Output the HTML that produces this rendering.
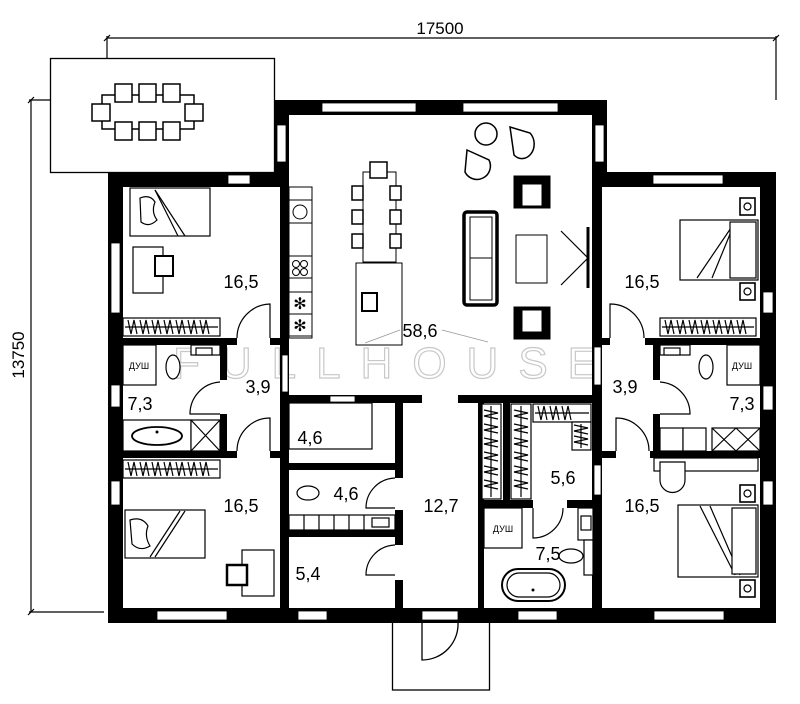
<!DOCTYPE html>
<html><head><meta charset="utf-8"><style>
html,body{margin:0;padding:0;background:#fff;}
svg{display:block;}
text{font-family:"Liberation Sans",sans-serif;}
</style></head><body>
<svg width="800" height="704" viewBox="0 0 800 704" xmlns="http://www.w3.org/2000/svg">
<g stroke="#000" stroke-width="1.2" fill="none">
<line x1="107" y1="38" x2="776" y2="38"/>
<line x1="107" y1="36" x2="107" y2="58"/>
<line x1="776" y1="36" x2="776" y2="100"/>
<line x1="104" y1="41" x2="110" y2="35"/><line x1="773" y1="41" x2="779" y2="35"/>
<line x1="31" y1="100" x2="31" y2="612"/>
<line x1="29" y1="100" x2="50" y2="100"/>
<line x1="29" y1="612" x2="104" y2="612"/>
<line x1="28" y1="103" x2="34" y2="97"/><line x1="28" y1="615" x2="34" y2="609"/>
</g>
<text x="440" y="34" font-size="17" text-anchor="middle">17500</text>
<text x="0" y="0" font-size="17" text-anchor="middle" transform="translate(24,355) rotate(-90)">13750</text>

<rect x="50.5" y="58.5" width="224" height="114" fill="#fff" stroke="#000" stroke-width="1.3"/>
<g fill="#fff" stroke="#000" stroke-width="1.5">
<rect x="102" y="95" width="92" height="34"/>
<rect x="115" y="84" width="17" height="18"/><rect x="139" y="84" width="17" height="18"/><rect x="163" y="84" width="17" height="18"/>
<rect x="115" y="122" width="17" height="18"/><rect x="139" y="122" width="17" height="18"/><rect x="163" y="122" width="17" height="18"/>
<rect x="92" y="104" width="18" height="17"/><rect x="185" y="104" width="18" height="17"/>
</g>

<rect x="392.5" y="620" width="97" height="70" fill="#fff" stroke="#000" stroke-width="1.3"/>
<path d="M422 620 L422 660 A36 36 0 0 0 458 622" fill="none" stroke="#000" stroke-width="1.3"/>

<text x="395" y="378" font-size="44" text-anchor="middle" fill="none" stroke="#c8c8c8" stroke-width="1.2" letter-spacing="20">FULLHOUSE</text>

<g fill="#000">
<rect x="274" y="100" width="333" height="15"/>
<rect x="274" y="100" width="15" height="87"/>
<rect x="592" y="100" width="15" height="87"/>
<rect x="108" y="172" width="181" height="15"/>
<rect x="592" y="172" width="184" height="15"/>
<rect x="108" y="172" width="15" height="451"/>
<rect x="760" y="172" width="16" height="451"/>
<rect x="108" y="608" width="668" height="15"/>
<rect x="280" y="187" width="9" height="421"/>
<rect x="592" y="187" width="10" height="421"/>
<rect x="108" y="338" width="129" height="7"/><rect x="270" y="338" width="19" height="7"/>
<rect x="602" y="338" width="8" height="7"/><rect x="645" y="338" width="131" height="7"/>
<rect x="220" y="345" width="7" height="35"/><rect x="220" y="414" width="7" height="40"/>
<rect x="653" y="345" width="7" height="35"/><rect x="653" y="414" width="7" height="40"/>
<rect x="108" y="451" width="129" height="7"/><rect x="270" y="451" width="19" height="7"/>
<rect x="602" y="451" width="14" height="7"/><rect x="650" y="451" width="126" height="7"/>
<rect x="289" y="395" width="133" height="8"/>
<rect x="458" y="395" width="144" height="8"/>
<rect x="395" y="403" width="8" height="75"/><rect x="395" y="510" width="8" height="35"/><rect x="395" y="580" width="8" height="28"/>
<rect x="289" y="463" width="114" height="7"/>
<rect x="289" y="530" width="114" height="7"/>
<rect x="478" y="403" width="6" height="205"/>
<rect x="503" y="403" width="7" height="97"/>
<rect x="478" y="500" width="55" height="8"/><rect x="567" y="500" width="35" height="8"/>
</g>
<g fill="#fff" stroke="#000" stroke-width="0.8">
<rect x="322" y="103" width="94" height="9"/><rect x="463" y="103" width="95" height="9"/>
<rect x="277" y="125" width="9" height="37"/><rect x="595" y="125" width="9" height="37"/>
<rect x="228" y="175" width="22" height="9"/><rect x="653" y="175" width="70" height="9"/>
<rect x="111" y="243" width="9" height="70"/><rect x="111" y="385" width="9" height="22"/><rect x="111" y="481" width="9" height="24"/>
<rect x="763" y="292" width="10" height="21"/><rect x="763" y="386" width="10" height="24"/><rect x="763" y="481" width="10" height="24"/>
<rect x="157" y="611" width="70" height="9"/><rect x="298" y="611" width="29" height="9"/><rect x="422" y="611" width="36" height="9"/>
<rect x="518" y="611" width="39" height="9"/><rect x="654" y="611" width="70" height="9"/>
<rect x="330" y="396" width="25" height="6"/>
<rect x="282" y="355" width="6" height="37"/><rect x="594" y="347" width="7" height="38"/><rect x="594" y="465" width="7" height="30"/>
</g>

<g fill="none" stroke="#000" stroke-width="1.2">
<path d="M270 338 L270 304 A34 34 0 0 0 237 338"/>
<path d="M610 338 L610 304 A34 34 0 0 1 644 338"/>
<path d="M220 382 A32 32 0 0 0 190 414 L220 414"/>
<path d="M660 382 A32 32 0 0 1 690 414 L660 414"/>
<path d="M270 451 L270 418 A33 33 0 0 0 237 451"/>
<path d="M616 451 L616 418 A33 33 0 0 1 649 451"/>
<path d="M355 403 L355 430 A27 27 0 0 1 330 403"/>
<path d="M395 478 A30 30 0 0 0 366 508 L395 508"/>
<path d="M395 545 A30 30 0 0 0 366 575 L395 575"/>
<path d="M533 508 L533 538 A30 30 0 0 0 563 508"/>
</g>

<g fill="#fff" stroke="#000" stroke-width="1">
<rect x="289" y="187" width="23" height="151"/>
<rect x="289" y="200" width="23" height="23"/><rect x="289" y="256" width="23" height="22"/>
<rect x="289" y="292" width="23" height="22"/><rect x="289" y="314" width="23" height="22"/>
<circle cx="300" cy="212" r="7"/>
<circle cx="296" cy="264" r="3.5"/><circle cx="304" cy="264" r="3.5"/><circle cx="296" cy="272" r="3.5"/><circle cx="304" cy="272" r="3.5"/>
<text x="300" y="309" font-size="16" text-anchor="middle" fill="#000" stroke="none">✻</text>
<text x="300" y="331" font-size="16" text-anchor="middle" fill="#000" stroke="none">✻</text>
<rect x="363" y="172" width="33" height="90"/>
<rect x="370" y="162" width="17" height="16" stroke-width="1.5"/>
<rect x="352" y="186" width="11" height="14" stroke-width="1.5"/><rect x="352" y="210" width="11" height="14" stroke-width="1.5"/><rect x="352" y="234" width="11" height="14" stroke-width="1.5"/>
<rect x="390" y="186" width="11" height="14" stroke-width="1.5"/><rect x="390" y="210" width="11" height="14" stroke-width="1.5"/><rect x="390" y="234" width="11" height="14" stroke-width="1.5"/>
<rect x="356" y="263" width="46" height="82"/>
<rect x="362" y="293" width="15" height="18" stroke-width="2"/>
<rect x="464" y="212" width="33" height="93" rx="3" stroke-width="3.5"/>
<rect x="470" y="217" width="22" height="83" stroke-width="1"/>
<line x1="470" y1="258" x2="492" y2="258"/>
<rect x="516" y="235" width="31" height="48"/>
<rect x="514" y="176" width="36" height="32" fill="#000"/><rect x="522" y="184" width="20" height="22" fill="#fff"/>
<rect x="514" y="307" width="36" height="32" fill="#000"/><rect x="522" y="310" width="20" height="22" fill="#fff"/>
<circle cx="486" cy="134" r="11" stroke-width="1.5"/>
<path d="M510 127 L530 133 A10 12 0 0 1 514 155 Z" stroke-width="1.5"/>
<path d="M467 150 L489 160 A12 12 0 0 1 465 172 Z" stroke-width="1.5"/>
</g>
<g stroke="#000" fill="none">
<line x1="588" y1="227" x2="588" y2="288" stroke-width="3"/>
<line x1="561" y1="231" x2="587" y2="257" stroke-width="1.2"/><line x1="561" y1="285" x2="587" y2="259" stroke-width="1.2"/>
<line x1="365" y1="343" x2="400" y2="330" stroke="#999" stroke-width="0.8"/>
<line x1="442" y1="330" x2="488" y2="342" stroke="#999" stroke-width="0.8"/>
</g>

<g fill="#fff" stroke="#000" stroke-width="1.2">
<rect x="130" y="188" width="80" height="48"/><line x1="155" y1="190" x2="185" y2="236"/><line x1="155" y1="190" x2="178" y2="236"/>
<path d="M140 198 q10 -4 15 4 q-4 10 2 18 q-8 8 -16 2 z"/>
<rect x="133" y="247" width="30" height="46"/><rect x="155" y="256" width="18" height="20" stroke-width="2"/>
<rect x="680" y="220" width="78" height="60"/><line x1="735" y1="222" x2="697" y2="278"/><line x1="735" y1="222" x2="712" y2="278"/>
<rect x="730" y="222" width="26" height="56"/>
<rect x="740" y="198" width="15" height="17" stroke-width="1.6"/><circle cx="747.5" cy="206.5" r="3.5"/>
<rect x="740" y="283" width="15" height="17" stroke-width="1.6"/><circle cx="747.5" cy="291.5" r="3.5"/>
<rect x="125" y="510" width="80" height="48"/><line x1="180" y1="511" x2="150" y2="557"/><line x1="185" y1="511" x2="155" y2="557"/>
<path d="M130 520 q12 -4 18 6 q-4 10 2 20 q-10 6 -18 -2 z"/>
<rect x="242" y="550" width="32" height="46"/><rect x="227" y="565" width="20" height="20" stroke-width="2.5"/>
<rect x="678" y="505" width="80" height="72"/><line x1="700" y1="506" x2="735" y2="575"/><line x1="710" y1="506" x2="740" y2="575"/>
<rect x="732" y="508" width="24" height="66"/>
<rect x="740" y="485" width="15" height="17" stroke-width="1.6"/><circle cx="747.5" cy="493.5" r="3.5"/>
<rect x="740" y="580" width="15" height="17" stroke-width="1.6"/><circle cx="747.5" cy="588.5" r="3.5"/>
<rect x="654" y="458" width="104" height="13"/>
<path d="M660 462 L685 462 L685 480 A12 12 0 0 1 660 480 Z"/>
</g>
<g fill="#fff" stroke="#000" stroke-width="1.2">
<rect x="123" y="318" width="97" height="18"/>
<rect x="660" y="318" width="96" height="18"/>
<rect x="123" y="460" width="97" height="18"/>
<rect x="482" y="404" width="19" height="95"/>
<rect x="511" y="404" width="20" height="95"/>
<rect x="533" y="404" width="58" height="18"/>
<rect x="572" y="422" width="19" height="28"/>
</g>
<g stroke="#000" stroke-width="1.2" fill="none">
<path d="M125 327 h93 M125 469 h93 M662 327 h92 M535 413 h54 M491 406 v91 M521 406 v91 M581 424 v24"/>
<path d="M128 320 l3 14 l3 -14 l3 14 M140 320 l3 14 l3 -14 l3 14 M152 320 l3 14 l3 -14 l3 14 M164 320 l3 14 l3 -14 l3 14 M176 320 l3 14 l3 -14 l3 14 M188 320 l3 14 l3 -14 l3 14 M200 320 l3 14 l3 -14 l3 14"/>
<path d="M665 320 l3 14 l3 -14 l3 14 M677 320 l3 14 l3 -14 l3 14 M689 320 l3 14 l3 -14 l3 14 M701 320 l3 14 l3 -14 l3 14 M713 320 l3 14 l3 -14 l3 14 M725 320 l3 14 l3 -14 l3 14 M737 320 l3 14 l3 -14 l3 14"/>
<path d="M128 462 l3 14 l3 -14 l3 14 M140 462 l3 14 l3 -14 l3 14 M152 462 l3 14 l3 -14 l3 14 M164 462 l3 14 l3 -14 l3 14 M176 462 l3 14 l3 -14 l3 14 M188 462 l3 14 l3 -14 l3 14 M200 462 l3 14 l3 -14 l3 14"/>
<path d="M484 410 l14 3 l-14 3 l14 3 M484 424 l14 3 l-14 3 l14 3 M484 438 l14 3 l-14 3 l14 3 M484 452 l14 3 l-14 3 l14 3 M484 466 l14 3 l-14 3 l14 3 M484 480 l14 3 l-14 3 l14 3"/>
<path d="M514 410 l14 3 l-14 3 l14 3 M514 424 l14 3 l-14 3 l14 3 M514 438 l14 3 l-14 3 l14 3 M514 452 l14 3 l-14 3 l14 3 M514 466 l14 3 l-14 3 l14 3 M514 480 l14 3 l-14 3 l14 3"/>
<path d="M538 406 l3 14 l3 -14 l3 14 M550 406 l3 14 l3 -14 l3 14 M562 406 l3 14 l3 -14 l3 14 M574 425 l14 3 l-14 3 l14 3 M574 436 l14 3 l-14 3 l14 3"/>
</g>

<g fill="#fff" stroke="#000" stroke-width="1.2">
<rect x="123" y="345" width="33" height="40"/>
<rect x="191" y="345" width="29" height="10"/><rect x="196" y="348" width="16" height="7"/>
<ellipse cx="173" cy="367" rx="7" ry="12"/>
<rect x="123" y="420" width="68" height="31"/><ellipse cx="157" cy="436" rx="25" ry="9" stroke-width="1.8"/>
<rect x="191" y="420" width="29" height="31"/><path d="M191 420 L220 451 M220 420 L191 451"/>
<rect x="727" y="345" width="33" height="40"/>
<rect x="660" y="345" width="30" height="10"/><rect x="664" y="348" width="16" height="7"/>
<ellipse cx="706" cy="367" rx="7" ry="12"/>
<rect x="660" y="428" width="23" height="23"/><rect x="683" y="428" width="23" height="23"/>
<rect x="712" y="428" width="48" height="23"/><path d="M712 428 L736 451 M736 428 L712 451 M736 428 L760 451 M760 428 L736 451"/>
<rect x="289" y="403" width="83" height="46"/>
<ellipse cx="308" cy="493" rx="11" ry="7"/>
<rect x="289" y="515" width="106" height="15"/>
<path d="M304 515 v15 M319 515 v15 M334 515 v15 M349 515 v15 M364 515 v15"/>
<rect x="372" y="518" width="17" height="9"/>
<rect x="484" y="508" width="38" height="40"/>
<rect x="578" y="508" width="15" height="32"/><rect x="581" y="516" width="10" height="14"/>
<rect x="584" y="540" width="9" height="35"/><ellipse cx="571" cy="556" rx="12" ry="7"/>
<rect x="502" y="569" width="63" height="32" rx="16" stroke-width="2"/><rect x="507" y="573" width="53" height="24" rx="12"/>
</g>
<g fill="#000"><circle cx="157" cy="432" r="1.5"/><circle cx="533" cy="590" r="1.5"/></g>
<g font-size="9" text-anchor="middle">
<text x="139" y="369">ДУШ</text><text x="742" y="369">ДУШ</text><text x="503" y="532">ДУШ</text>
</g>

<g font-size="18" text-anchor="middle">
<text x="241" y="288">16,5</text><text x="642" y="288">16,5</text>
<text x="420" y="337">58,6</text>
<text x="140" y="410">7,3</text><text x="258" y="393">3,9</text>
<text x="625" y="393">3,9</text><text x="742" y="410">7,3</text>
<text x="310" y="444">4,6</text><text x="346" y="500">4,6</text>
<text x="441" y="512">12,7</text><text x="563" y="484">5,6</text>
<text x="548" y="560">7,5</text><text x="308" y="580">5,4</text>
<text x="241" y="512">16,5</text><text x="642" y="512">16,5</text>
</g>
</svg>
</body></html>
